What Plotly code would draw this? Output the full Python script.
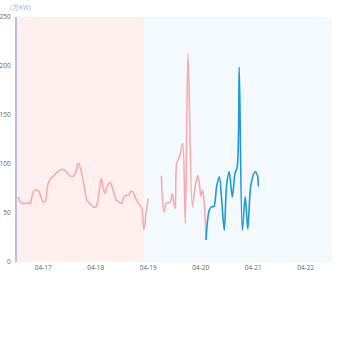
import plotly.graph_objects as go

# Load series (万KW), three contiguous segments
hist_time = [
    "2024-04-16 12:30", "2024-04-16 13:30", "2024-04-16 15:00", "2024-04-16 16:30",
    "2024-04-16 17:15", "2024-04-16 18:00", "2024-04-16 19:15", "2024-04-16 20:30",
    "2024-04-16 22:00", "2024-04-16 23:15", "2024-04-17 00:00", "2024-04-17 01:00",
    "2024-04-17 02:15", "2024-04-17 03:30", "2024-04-17 05:15", "2024-04-17 07:00",
    "2024-04-17 09:00", "2024-04-17 10:45", "2024-04-17 12:30", "2024-04-17 14:00",
    "2024-04-17 15:00", "2024-04-17 16:00", "2024-04-17 17:00", "2024-04-17 18:30",
    "2024-04-17 20:00", "2024-04-17 21:30", "2024-04-17 23:00", "2024-04-18 00:00",
    "2024-04-18 01:00", "2024-04-18 02:30", "2024-04-18 03:30", "2024-04-18 04:15",
    "2024-04-18 05:00", "2024-04-18 06:30", "2024-04-18 08:00", "2024-04-18 09:30",
    "2024-04-18 11:00", "2024-04-18 12:00", "2024-04-18 12:45", "2024-04-18 14:00",
    "2024-04-18 15:00", "2024-04-18 16:00", "2024-04-18 17:00", "2024-04-18 18:00",
    "2024-04-18 19:30", "2024-04-18 21:00", "2024-04-18 22:00", "2024-04-18 23:00",
    "2024-04-19 00:00",
]
hist_load = [
    66.5, 61.5, 59.5, 60, 61, 59, 70, 73.5,
    72, 64, 61, 63, 80, 85.5, 89, 93,
    94.5, 92, 87.5, 88, 93, 101, 96, 80,
    63, 59, 56, 56, 63, 85.5, 74, 70,
    76, 81, 73, 63, 60.5, 60, 66, 68,
    68, 72, 71.5, 66, 60, 55, 33, 50,
    65,
]

real_time = [
    "2024-04-19 06:00", "2024-04-19 07:10", "2024-04-19 08:20", "2024-04-19 09:50",
    "2024-04-19 11:00", "2024-04-19 11:45", "2024-04-19 12:20", "2024-04-19 13:00",
    "2024-04-19 14:30", "2024-04-19 15:45", "2024-04-19 16:55", "2024-04-19 18:10",
    "2024-04-19 20:10", "2024-04-19 21:25", "2024-04-19 22:35", "2024-04-19 23:30",
    "2024-04-20 00:05", "2024-04-20 00:50", "2024-04-20 01:30", "2024-04-20 02:25",
]
real_load = [
    88, 51, 60, 60.5, 69.5, 60, 55, 100,
    109, 121, 39.5, 213, 56.5, 77, 88, 77,
    67, 73.5, 63, 22.5,
]

fcst_time = [
    "2024-04-20 02:25", "2024-04-20 03:55", "2024-04-20 05:00", "2024-04-20 06:00",
    "2024-04-20 07:15", "2024-04-20 08:30", "2024-04-20 09:35", "2024-04-20 10:45",
    "2024-04-20 11:50", "2024-04-20 13:00", "2024-04-20 14:25", "2024-04-20 15:40",
    "2024-04-20 16:40", "2024-04-20 17:35", "2024-04-20 19:00", "2024-04-20 20:20",
    "2024-04-20 21:30", "2024-04-20 23:00", "2024-04-21 00:50", "2024-04-21 01:50",
    "2024-04-21 02:20",
]
fcst_load = [
    22.5, 53, 56.5, 56.5, 77, 87, 63, 32.5,
    78.5, 92, 66.5, 90.5, 97, 199, 32.5, 66.5,
    34, 80, 92, 89, 77,
]

x_start, x_end = "2024-04-16 12:00", "2024-04-22 12:00"
split = "2024-04-18 22:00"
tick_vals = ["2024-04-17", "2024-04-18", "2024-04-19", "2024-04-20", "2024-04-21", "2024-04-22"]
tick_text = ["04-17", "04-18", "04-19", "04-20", "04-21", "04-22"]

PINK = "#fbaaab"
BLUE = "#1c9ad8"

fig = go.Figure()
line_style = dict(shape="spline", smoothing=0.9, width=1.6)
fig.add_trace(go.Scatter(x=hist_time, y=hist_load, mode="lines",
                         line=dict(color=PINK, **line_style), hoverinfo="skip"))
fig.add_trace(go.Scatter(x=real_time, y=real_load, mode="lines",
                         line=dict(color=PINK, **line_style), hoverinfo="skip"))
fig.add_trace(go.Scatter(x=fcst_time, y=fcst_load, mode="lines",
                         line=dict(color=BLUE, **line_style), hoverinfo="skip"))

# Background bands: past vs. future
fig.add_shape(type="rect", xref="x", yref="paper", x0=x_start, x1=split, y0=0, y1=1,
              fillcolor="#fff0f0", line_width=0, layer="below")
fig.add_shape(type="rect", xref="x", yref="paper", x0=split, x1=x_end, y0=0, y1=1,
              fillcolor="#f4f9fe", line_width=0, layer="below")

fig.add_annotation(text="(万KW)", xref="paper", yref="paper", x=-0.03, y=1.0,
                   xanchor="left", yanchor="bottom", yshift=3, showarrow=False,
                   font=dict(size=6.5, color="#a3abe2"))

fig.update_layout(
    width=350, height=350,
    margin=dict(l=17, r=18, t=17, b=88),
    paper_bgcolor="white", plot_bgcolor="white",
    showlegend=False,
    font=dict(family="Open Sans", color="#666666", size=6.5),
    xaxis=dict(range=[x_start, x_end], type="date", tickvals=tick_vals, ticktext=tick_text,
               showgrid=False, zeroline=False, showline=False, ticks="",
               automargin=False, tickfont=dict(size=6.5, color="#666666")),
    yaxis=dict(range=[0, 250], dtick=50, showgrid=False, zeroline=False,
               showline=True, linecolor="#c0bce0", linewidth=2, ticks="",
               automargin=False, ticklabelstandoff=3,
               tickfont=dict(size=6.5, color="#666666")),
)

fig.write_html("out.html")
